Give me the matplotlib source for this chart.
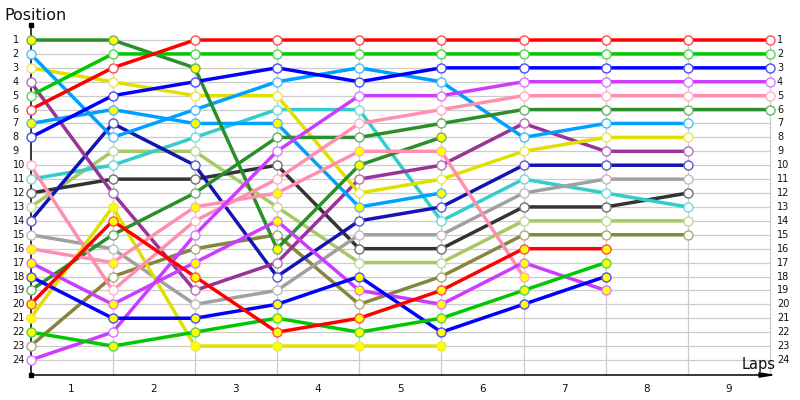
import numpy as np
import matplotlib.pyplot as plt
from matplotlib.colors import to_rgb
from matplotlib.transforms import blended_transform_factory

laps = np.arange(10)
lap_labels = ['1', '2', '3', '4', '5', '6', '7', '8', '9']
rank_labels = [str(i) for i in range(1, 25)]

# position of each car at lap 0..n, list stops when the car drops out / is lapped
red_1 = [6, 3, 1, 1, 1, 1, 1, 1, 1, 1]
red_2 = [20, 14, 18, 22, 21, 19, 16, 16]
green_1 = [5, 2, 2, 2, 2, 2, 2, 2, 2, 2]
green_2 = [22, 23, 22, 21, 22, 21, 19, 17]
blue_1 = [8, 5, 4, 3, 4, 3, 3, 3, 3, 3]
blue_2 = [18, 21, 21, 20, 18, 22, 20, 18]
violet_1 = [24, 22, 15, 9, 5, 5, 4, 4, 4, 4]
violet_2 = [17, 20, 17, 14, 19, 20, 17, 19]
pink_1 = [10, 19, 14, 11, 7, 6, 5, 5, 5, 5]
pink_2 = [16, 17, 13, 12, 9, 9, 18]
dkgreen_1 = [19, 15, 12, 8, 8, 7, 6, 6, 6, 6]
dkgreen_2 = [1, 1, 3, 16, 10, 8]
sky_1 = [2, 8, 6, 4, 3, 4, 8, 7, 7]
sky_2 = [7, 6, 7, 7, 13, 12]
yellow_1 = [3, 4, 5, 5, 12, 11, 9, 8, 8]
yellow_2 = [21, 13, 23, 23, 23, 23]
purple_1 = [4, 12, 19, 17, 11, 10, 7, 9, 9]
navy_1 = [14, 7, 10, 18, 14, 13, 10, 10, 10]
grey_1 = [15, 16, 20, 19, 15, 15, 12, 11, 11]
cyan_1 = [11, 10, 8, 6, 6, 14, 11, 12, 13]
dkgrey_1 = [12, 11, 11, 10, 16, 16, 13, 13, 12]
lime_1 = [13, 9, 9, 13, 17, 17, 14, 14, 14]
olive_1 = [23, 18, 16, 15, 20, 18, 15, 15, 15]

W = 'white'
Y = '#FFFF00'
cars = [
    (olive_1, '#85853F', W), (lime_1, '#A8C866', W), (dkgrey_1, '#333333', W),
    (cyan_1, '#33CCCC', W), (grey_1, '#A0A0A0', W), (navy_1, '#1414B4', W),
    (purple_1, '#993399', W), (yellow_2, '#E0E000', Y), (yellow_1, '#E0E000', W),
    (sky_2, '#00A0FF', Y), (sky_1, '#00A0FF', W), (dkgreen_2, '#2A8F2A', Y),
    (dkgreen_1, '#2A8F2A', W), (pink_2, '#FF8FAF', Y), (pink_1, '#FF8FAF', W),
    (violet_2, '#CC3CFF', Y), (violet_1, '#CC3CFF', W), (blue_2, '#0000FF', Y),
    (blue_1, '#0000FF', W), (green_2, '#00C800', Y), (green_1, '#00C800', W),
    (red_2, '#FF0000', Y), (red_1, '#FF0000', W),
]


def lighten(c, k=0.3):
    r, g, b = to_rgb(c)
    return (r + (1 - r) * k, g + (1 - g) * k, b + (1 - b) * k)


fig = plt.figure(figsize=(8, 4), dpi=100)
x0, x1 = 30.5, 779
ax = fig.add_axes([x0 / 800, 25 / 400, (x1 - x0) / 800, 350 / 400])
px = (770 - x0) / 9
ax.set_xlim(0, (x1 - x0) / px)
ymin, ymax = 25.08, -0.08
ax.set_ylim(ymin, ymax)
ax.axis('off')

# grid
ax.hlines(range(1, 25), 0, 9, color='#CCCCCC', lw=0.9, zorder=1)
ax.vlines(laps[1:], 1, ymin, color='#CCCCCC', lw=0.9, zorder=1)

# axes with arrow
ax.plot([0, 0], [ymin, ymax], color='black', lw=1.1, zorder=2, clip_on=False)
ax.plot([0, 0], [ymin, ymax], ls='none', marker='s', ms=2.5, color='black',
        zorder=2, clip_on=False)
ax.annotate('', xy=((x1 - x0) / px, ymin), xytext=(0, ymin),
            arrowprops=dict(arrowstyle='-|>,head_length=0.9,head_width=0.15',
                            color='black', lw=1.1), annotation_clip=False)

for pos, col, face in cars:
    ax.plot(laps[:len(pos)], pos, color=col, lw=2.5, zorder=3,
            solid_capstyle='round', solid_joinstyle='round', clip_on=False)
for pos, col, face in cars:
    ax.plot(laps[:len(pos)], pos, ls='none', marker='o', ms=6.5, mfc=face,
            mec=lighten(col), mew=1.0, zorder=4, clip_on=False)

# labels
tr = blended_transform_factory(fig.transFigure, ax.transData)
for i, lab in enumerate(rank_labels):
    ax.text(12.5 / 800, i + 1, lab, transform=tr, ha='left', va='center',
            fontsize=7, color='#111111')
    ax.text(777 / 800, i + 1, lab, transform=tr, ha='left', va='center',
            fontsize=7, color='#111111')
for i, lab in enumerate(lap_labels):
    ax.text(i + 0.5, ymin + 1.0, lab, ha='center', va='center', fontsize=7.5,
            color='#111111', clip_on=False)

fig.text(4 / 800, 1 - 15 / 400, 'Position', fontsize=11.5, ha='left',
         va='center', color='#111111')
fig.text(759 / 800, 1 - 364 / 400, 'Laps', fontsize=10.5, ha='center',
         va='center', color='#111111')

fig.savefig('out.png', dpi=100)
